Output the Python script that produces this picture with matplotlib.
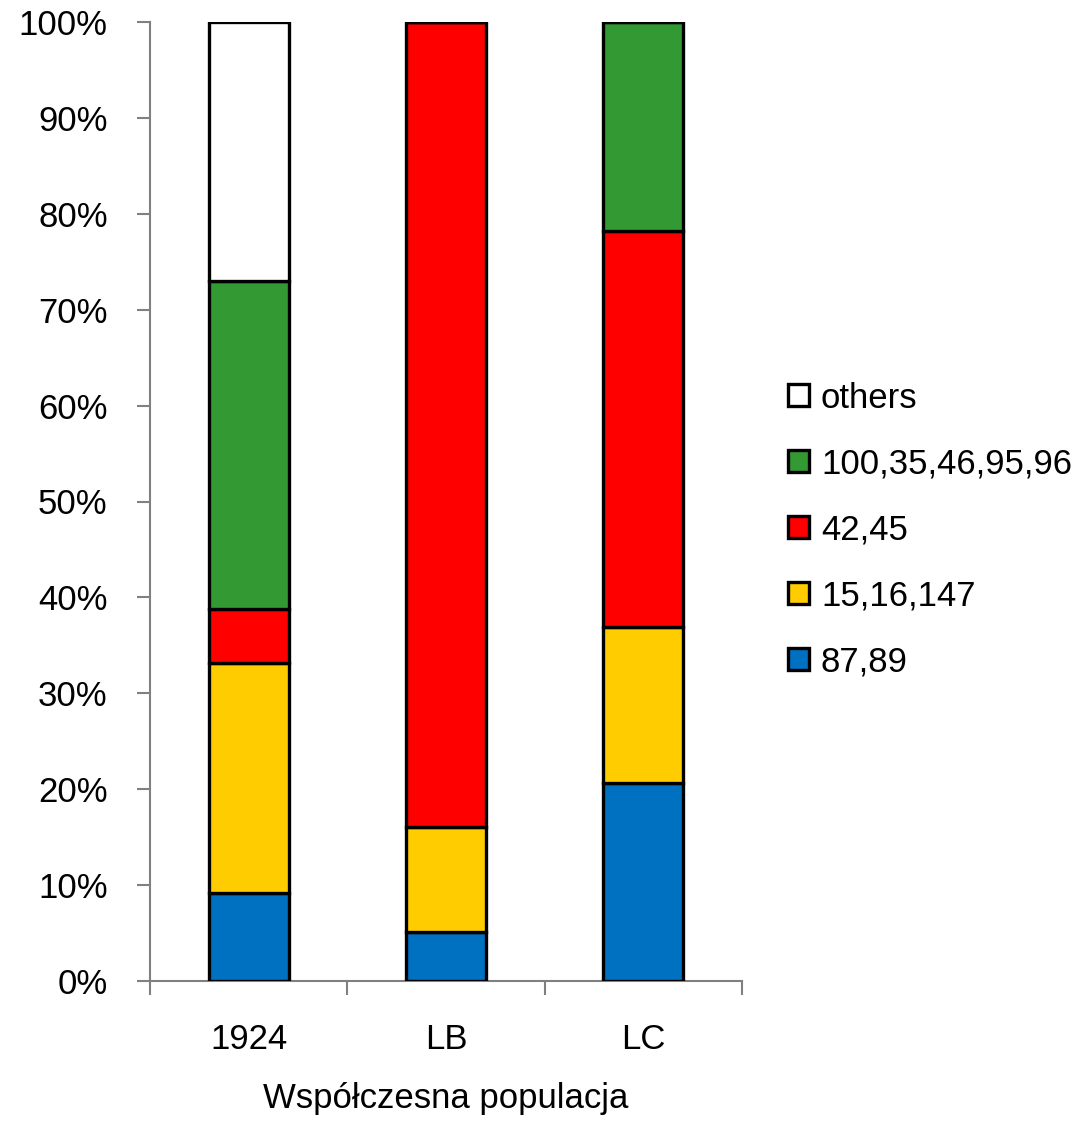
import matplotlib
matplotlib.use("Agg")
import matplotlib.pyplot as plt
from matplotlib.patches import Patch
import numpy as np

plt.rcParams["font.family"] = ["Liberation Sans", "DejaVu Sans"]

groups = ["1924", "LB", "LC"]
series = ["87,89", "15,16,147", "42,45", "100,35,46,95,96", "others"]
blue = [9.2, 5.1, 20.6]
yellow = [24.0, 11.0, 16.3]
red = [5.6, 83.9, 41.3]
green = [34.2, 0.0, 21.8]
others = [27.0, 0.0, 0.0]
colors = ["#0070c0", "#ffcc00", "#ff0000", "#339933", "#ffffff"]

values = [blue, yellow, red, green, others]

fig = plt.figure(figsize=(10.77, 11.24), dpi=100)
ax = fig.add_axes([150/1077, 143/1124, 592/1077, 959/1124])

x = np.arange(len(groups))
bottom = np.zeros(len(groups))
for vals, col, name in zip(values, colors, series):
    vals = np.array(vals)
    ax.bar(x, vals, 0.405, bottom=bottom, color=col, edgecolor="black",
           linewidth=2.4, label=name, zorder=3)
    bottom += vals

ax.set_xlim(-0.5, 2.5)
ax.set_ylim(0, 100)
ax.set_yticks(np.arange(0, 101, 10))
ax.set_yticklabels([f"{v}%" for v in range(0, 101, 10)], fontsize=25)
ax.set_xticks(x)
ax.set_xticklabels(groups, fontsize=25)
ax.tick_params(axis="x", length=0, pad=30)
ax.set_xticks([-0.5, 0.5, 1.5, 2.5], minor=True)
ax.tick_params(axis="x", which="minor", length=10, color="#808080", width=1.5)
ax.tick_params(axis="y", length=9.5, color="#808080", width=1.5, pad=21)
for s in ["top", "right"]:
    ax.spines[s].set_visible(False)
for s in ["left", "bottom"]:
    ax.spines[s].set_color("#808080")
    ax.spines[s].set_linewidth(1.5)
ax.set_xlabel("Współczesna populacja", fontsize=25, labelpad=19)

handles = [Patch(facecolor=c, edgecolor="black", linewidth=2.4) for c in colors]
fig.legend(handles[::-1], series[::-1], loc="center left",
           bbox_to_anchor=(788/1077, 1 - 530/1124), frameon=False,
           fontsize=25, handlelength=0.6, handleheight=0.6,
           handletextpad=0.35, labelspacing=0.95,
           borderpad=0, borderaxespad=0)

fig.savefig("out.png", dpi=100)
